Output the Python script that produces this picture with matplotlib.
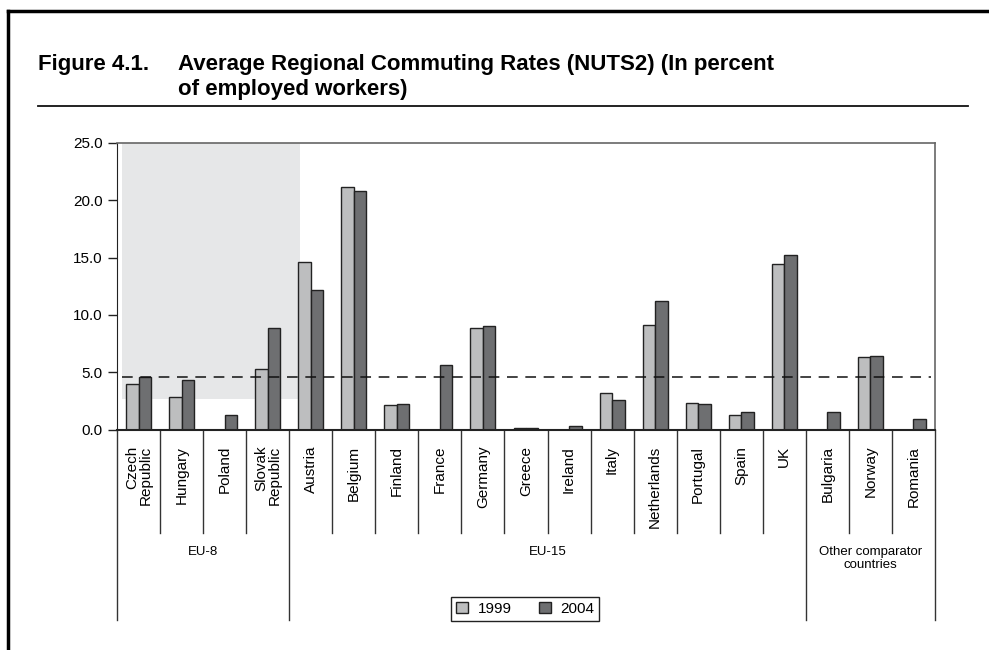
import matplotlib.pyplot as plt
from matplotlib.lines import Line2D
from matplotlib.patches import Rectangle

plt.rcParams['font.family'] = ['Liberation Sans', 'DejaVu Sans']

countries = ['Czech\nRepublic', 'Hungary', 'Poland', 'Slovak\nRepublic',
             'Austria', 'Belgium', 'Finland', 'France', 'Germany', 'Greece',
             'Ireland', 'Italy', 'Netherlands', 'Portugal', 'Spain', 'UK',
             'Bulgaria', 'Norway', 'Romania']
rate1999 = [4.0, 2.8, 0.0, 5.3, 14.6, 21.2, 2.1, 0.0, 8.9, 0.15,
            0.0, 3.2, 9.1, 2.3, 1.3, 14.4, 0.0, 6.3, 0.0]
rate2004 = [4.6, 4.3, 1.3, 8.9, 12.2, 20.8, 2.2, 5.6, 9.0, 0.15,
            0.3, 2.6, 11.2, 2.2, 1.5, 15.2, 1.5, 6.4, 0.95]
groups = ['EU-8', 'EU-15', 'Other comparator\ncountries']
group_sizes = [4, 12, 3]
average = 4.6
yticks = [0, 5, 10, 15, 20, 25]

c1999 = '#bdbebf'
c2004 = '#6e6f71'

fig = plt.figure(figsize=(9.89, 6.5), dpi=100)
ax = fig.add_axes([117 / 989, 220.5 / 650, 818 / 989, 286.5 / 650])

x = list(range(len(countries)))
w = 0.29
ax.add_patch(Rectangle((-0.384, 2.66), 4.134, 25 - 2.66, facecolor='#e6e7e8',
                       edgecolor='none', zorder=0))
ax.bar([i - w / 2 for i in x], rate1999, w, color=c1999, edgecolor='#222222',
       linewidth=1, label='1999', zorder=2)
ax.bar([i + w / 2 for i in x], rate2004, w, color=c2004, edgecolor='#222222',
       linewidth=1, label='2004', zorder=2)
ax.axhline(average, xmin=0.006, xmax=0.995, color='#111111', lw=1.1,
           dashes=(7, 5), zorder=3)

ax.set_xlim(-0.5, len(countries) - 0.5)
ax.set_ylim(0, 25)
ax.set_yticks(yticks)
ax.set_yticklabels(['%.1f' % v for v in yticks], fontsize=11)
ax.tick_params(axis='y', direction='out', length=6.5, width=1, pad=4,
               color='#222222')
ax.set_xticks([])
for s in ['top', 'right']:
    ax.spines[s].set_color('#666666')
    ax.spines[s].set_linewidth(1.2)
ax.spines['left'].set_color('#222222')
ax.spines['bottom'].set_color('#222222')
ax.spines['bottom'].set_linewidth(1.5)

trans = ax.get_xaxis_transform()
bounds = [0]
for g in group_sizes:
    bounds.append(bounds[-1] + g)
for i in range(len(countries) + 1):
    bottom = -0.665 if i in bounds else -0.361
    ax.plot([i - 0.5, i - 0.5], [0, bottom], color='#333333', lw=1,
            transform=trans, clip_on=False)
for i, name in enumerate(countries):
    ax.text(i, -0.057, name, rotation=90, ha='center', va='top',
            multialignment='right', fontsize=11, linespacing=0.95,
            transform=trans)
for k, g in enumerate(groups):
    mid = (bounds[k] + bounds[k + 1]) / 2 - 0.5
    ax.text(mid, -0.405, g, ha='center', va='top', fontsize=9.5,
            transform=trans, linespacing=1.2)

leg = ax.legend(loc='center', bbox_to_anchor=(0.499, -0.626), ncol=2,
                fontsize=11, frameon=True, fancybox=False, framealpha=1,
                edgecolor='#222222', handlelength=0.8, handleheight=0.8,
                columnspacing=1.8, handletextpad=0.6, borderpad=0.3)
leg.get_frame().set_linewidth(1)

# title block, squeezed to the width of the condensed original font
tfont = dict(fontweight='bold', fontstretch='condensed', va='baseline')
t1 = fig.text(38 / 989, 1 - 70 / 650, 'Figure 4.1.', fontsize=16, **tfont)
t2 = fig.text(178 / 989, 1 - 70 / 650,
              'Average Regional Commuting Rates (NUTS2) (In percent',
              fontsize=16, **tfont)
t3 = fig.text(178 / 989, 1 - 95 / 650, 'of employed workers)', fontsize=16,
              **tfont)
r = fig.canvas.get_renderer()
wid = t2.get_window_extent(r).width
size = 16 * (775 - 178) / wid
for t in (t1, t2, t3):
    t.set_fontsize(size)
fig.add_artist(Line2D([38 / 989, 968 / 989], [1 - 106 / 650, 1 - 106 / 650],
                      color='#111111', lw=1.3))

# outer frame
fig.add_artist(Line2D([8 / 989, 1], [1 - 11 / 650, 1 - 11 / 650],
                      color='black', lw=2.5))
fig.add_artist(Line2D([8 / 989, 8 / 989], [0, 1 - 11 / 650],
                      color='black', lw=2.5))

fig.savefig('out.png', dpi=100)
